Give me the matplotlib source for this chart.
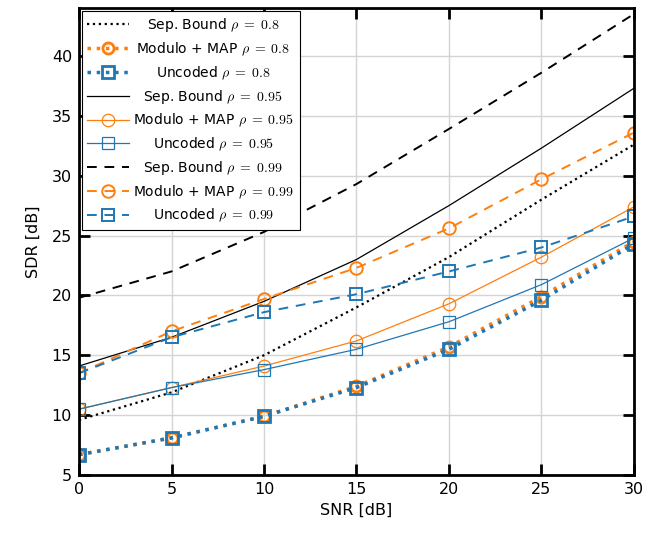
import types
import matplotlib
matplotlib.use("Agg")
import matplotlib.pyplot as plt
from matplotlib.offsetbox import TextArea
from matplotlib.transforms import Bbox

snr = [0, 5, 10, 15, 20, 25, 30]

sep_08 = [9.6, 11.9, 15.0, 19.0, 23.2, 28.0, 32.6]
mod_08 = [6.7, 8.1, 9.9, 12.4, 15.7, 19.9, 24.5]
unc_08 = [6.7, 8.1, 9.9, 12.3, 15.5, 19.6, 24.3]

sep_095 = [14.1, 16.5, 19.5, 23.0, 27.5, 32.3, 37.3]
mod_095 = [10.5, 12.3, 14.1, 16.2, 19.3, 23.2, 27.4]
unc_095 = [10.5, 12.3, 13.8, 15.5, 17.8, 20.9, 24.8]

sep_099 = [19.8, 22.0, 25.3, 29.3, 33.9, 38.6, 43.5]
mod_099 = [13.5, 17.0, 19.7, 22.3, 25.6, 29.7, 33.6]
unc_099 = [13.5, 16.5, 18.6, 20.1, 22.0, 24.0, 26.6]

labels = [
    r"Sep. Bound $\rho\;=\;0.8$",
    r"Modulo + MAP $\rho\;=\;0.8$",
    r"Uncoded $\rho\;=\;0.8$",
    r"Sep. Bound $\rho\;=\;0.95$",
    r"Modulo + MAP $\rho\;=\;0.95$",
    r"Uncoded $\rho\;=\;0.95$",
    r"Sep. Bound $\rho\;=\;0.99$",
    r"Modulo + MAP $\rho\;=\;0.99$",
    r"Uncoded $\rho\;=\;0.99$",
]

plt.rcParams['font.family'] = ['DejaVu Sans']
plt.rcParams['mathtext.fontset'] = 'cm'

orange = '#ff7f0e'
blue = '#1f77b4'

fig = plt.figure(figsize=(6.6, 5.33), dpi=100)
ax = fig.add_axes([0.1197, 0.1088, 0.8409, 0.8762])

dashes = (5, 4)
ax.plot(snr, sep_08, color='black', ls=':', lw=1.6, label=labels[0])
ax.plot(snr, mod_08, color=orange, ls=':', lw=2.5, marker='o', ms=8, mfc='none', mew=2.0, label=labels[1])
ax.plot(snr, unc_08, color=blue, ls=':', lw=2.5, marker='s', ms=8, mfc='none', mew=2.0, label=labels[2])
ax.plot(snr, sep_095, color='black', ls='-', lw=0.9, label=labels[3])
ax.plot(snr, mod_095, color=orange, ls='-', lw=0.9, marker='o', ms=9, mfc='none', mew=0.9, label=labels[4])
ax.plot(snr, unc_095, color=blue, ls='-', lw=0.9, marker='s', ms=9, mfc='none', mew=0.9, label=labels[5])
ax.plot(snr, sep_099, color='black', ls=(0, dashes), lw=1.4, label=labels[6])
ax.plot(snr, mod_099, color=orange, ls=(0, dashes), lw=1.4, marker='o', ms=9, mfc='none', mew=1.4, label=labels[7])
ax.plot(snr, unc_099, color=blue, ls=(0, dashes), lw=1.4, marker='s', ms=9, mfc='none', mew=1.4, label=labels[8])

ax.set_xlim(0, 30)
ax.set_ylim(5, 44)
ax.set_xticks([0, 5, 10, 15, 20, 25, 30])
ax.set_yticks([5, 10, 15, 20, 25, 30, 35, 40])
ax.grid(True, color='#d4d4d4', lw=1.0)
ax.set_axisbelow(True)
for s in ax.spines.values():
    s.set_linewidth(2.0)
ax.tick_params(direction='in', length=8, width=2, top=True, right=True, labelsize=11.5, pad=5)
ax.set_xlabel('SNR [dB]', fontsize=11.5, labelpad=4)
ax.set_ylabel('SDR [dB]', fontsize=11.5, labelpad=8)

leg = ax.legend(loc='upper left', bbox_to_anchor=(0.0, 1.0), fontsize=10, numpoints=1,
                handlelength=3.0, labelspacing=0.45, frameon=True, fancybox=False,
                edgecolor='black', framealpha=1.0, borderpad=0.4, handletextpad=0.2,
                borderaxespad=0.2)
leg.get_frame().set_linewidth(0.8)

# center legend texts within a common width
renderer = fig.canvas.get_renderer()
orig_gb = TextArea.get_bbox
rows = []
for col in leg._legend_handle_box.get_children():
    for row in col.get_children():
        rows.append(row.get_children()[1])
W = max(orig_gb(ta, renderer).width for ta in rows) + 2

def centered_bbox(self, r):
    b = orig_gb(self, r)
    return Bbox.from_bounds(-W / 2, b.y0, W, b.height)

for ta in rows:
    ta._text.set_horizontalalignment('center')
    ta.get_bbox = types.MethodType(centered_bbox, ta)

fig.savefig('out.png', dpi=100)
